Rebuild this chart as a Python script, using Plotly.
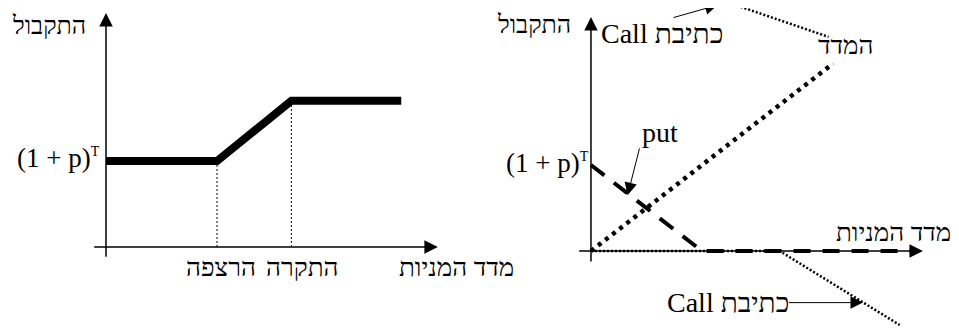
import plotly.graph_objects as go

# left panel: guaranteed fund with floor and cap
floor_index = 100
cap_index = 167
left_index = [0, floor_index, cap_index, 266]
left_payoff = [100, 100, 170, 170]

# right panel: components (index, put, written call)
index_x = [0, 218]
index_y = [0, 218]
put_x = [0, 100, 293]
put_y = [100, 0, 0]
call_x = [0, 170, 278]
call_y = [0, 0, -86]
call_top_x = [128, 214]
call_top_y = [287, 249]

FONT = "Liberation Serif"
BLACK = "black"
BASE_LABEL = "(1 + p)<sup><span style='font-size:14px'>T</span></sup>"

fig = go.Figure()

# ---- left panel ----
fig.add_trace(go.Scatter(x=[floor_index, floor_index], y=[0, left_payoff[1]], mode="lines",
                         line=dict(color=BLACK, width=1, dash="2px,2px"), xaxis="x", yaxis="y"))
fig.add_trace(go.Scatter(x=[cap_index, cap_index], y=[0, left_payoff[2]], mode="lines",
                         line=dict(color=BLACK, width=1, dash="2px,2px"), xaxis="x", yaxis="y"))
fig.add_trace(go.Scatter(x=left_index, y=left_payoff, mode="lines",
                         line=dict(color=BLACK, width=8), xaxis="x", yaxis="y"))

# ---- right panel ----
fig.add_trace(go.Scatter(x=call_x, y=call_y, mode="lines",
                         line=dict(color=BLACK, width=2.5, dash="2px,2px"), xaxis="x2", yaxis="y2"))
fig.add_trace(go.Scatter(x=call_top_x, y=call_top_y, mode="lines",
                         line=dict(color=BLACK, width=2.5, dash="2px,2px"), xaxis="x2", yaxis="y2"))
fig.add_trace(go.Scatter(x=index_x, y=index_y, mode="lines",
                         line=dict(color=BLACK, width=4.5, dash="4px,5px"), xaxis="x2", yaxis="y2"))
fig.add_trace(go.Scatter(x=put_x, y=put_y, mode="lines",
                         line=dict(color=BLACK, width=4, dash="17px,12px"), xaxis="x2", yaxis="y2"))


def arrow(xr, yr, x, y, ax, ay, width=1.0, size=2.5):
    fig.add_annotation(xref=xr, yref=yr, axref=xr, ayref=yr, x=x, y=y, ax=ax, ay=ay,
                       text="", showarrow=True, arrowhead=2, arrowsize=size,
                       arrowwidth=width, arrowcolor=BLACK, standoff=0, startstandoff=0)


def label(xr, yr, x, y, text, size=25, xanchor="center"):
    fig.add_annotation(xref=xr, yref=yr, x=x, y=y, text=text, showarrow=False,
                       xanchor=xanchor, yanchor="middle",
                       font=dict(family=FONT, size=size, color=BLACK))


# axes with arrows
arrow("x", "y", 299, 0, -12, 0, width=1.5, size=1.8)
arrow("x", "y", 0, 272, 0, -13, width=1.5, size=1.8)
arrow("x2", "y2", 299, 0, -12, 0, width=1.5, size=1.8)
arrow("x2", "y2", 0, 272, 0, -14, width=1.5, size=1.8)

# left labels
label("x", "y", -51, 258, "התקבול")
label("x", "y", -4, 103, BASE_LABEL, size=27, xanchor="right")
label("x", "y", 104, -24, "הרצפה", size=26)
label("x", "y", 177, -24, "התקרה", size=26)
label("x", "y", 316, -24, "מדד המניות", size=26)

# right labels
label("x2", "y2", -51, 263, "התקבול")
label("x2", "y2", 0, 102, BASE_LABEL, size=27, xanchor="right")
label("x2", "y2", 64, 253, "Call כתיבת", size=28)
arrow("x2", "y2", 114, 286, 73, 271)
label("x2", "y2", 229, 239, "המדד", size=26)
label("x2", "y2", 62, 138, "put", size=28)
arrow("x2", "y2", 33, 65, 44, 121)
label("x2", "y2", 326, 21, "מדד המניות", size=26, xanchor="right")
label("x2", "y2", 123, -60, "Call כתיבת", size=28)
arrow("x2", "y2", 245, -60, 177, -60)

# page body has an 8px margin, so ranges are set to put the panels in place
hidden = dict(visible=False, fixedrange=True)
fig.update_layout(
    width=959,
    height=331,
    margin=dict(l=0, r=0, t=0, b=0),
    paper_bgcolor="white",
    plot_bgcolor="white",
    showlegend=False,
    xaxis=dict(domain=[0, 0.5], range=[-88.3, 343.7], **hidden),
    yaxis=dict(domain=[0, 1], range=[-107.0, 277.9], **hidden),
    xaxis2=dict(domain=[0.5, 1], range=[-93.2, 338.7], **hidden),
    yaxis2=dict(domain=[0, 1], range=[-102.3, 282.6], anchor="x2", **hidden),
)

fig.write_html("out.html")
